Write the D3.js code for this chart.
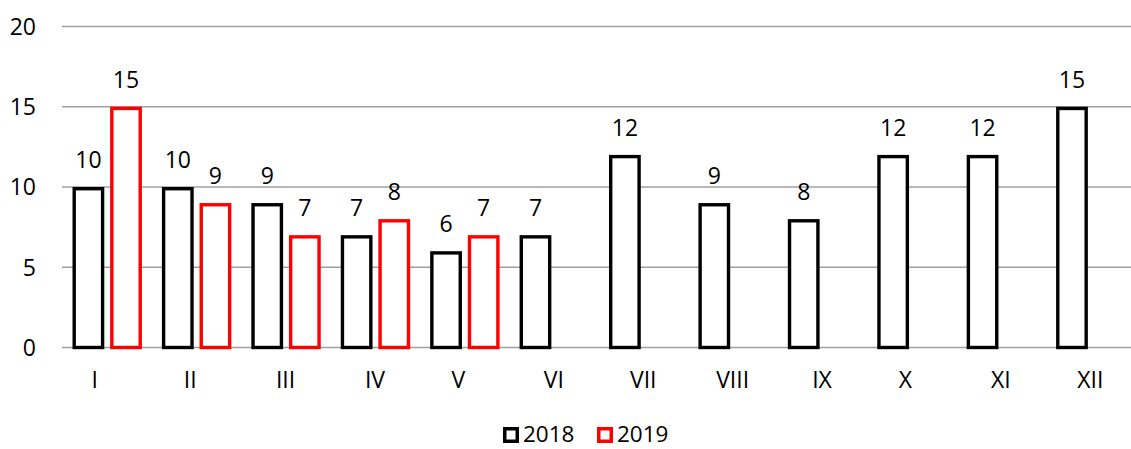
<!DOCTYPE html>
<html>
<head>
<meta charset="utf-8">
<script src="https://cdn.jsdelivr.net/npm/d3@7"></script>
<style>
  html, body { margin: 0; padding: 0; background: #fff; overflow: hidden; }
  svg text { font-family: "Open Sans", sans-serif; font-size: 23px; fill: #000; white-space: pre; }
</style>
</head>
<body>
<svg id="chart" width="1131" height="449"></svg>
<script>
// Data
const categories = ["I    ", "II  ", "III", "IV", "V  ", "VI", "VII", "VIII", "IX", "X  ", "XI", "XII"];
const seriesNames = ["2018", "2019"];
const values2018 = [10, 10, 9, 7, 6, 7, 12, 9, 8, 12, 12, 15];
const values2019 = [15, 9, 7, 8, 7, null, null, null, null, null, null, null];
const yTicks = [0, 5, 10, 15, 20];
const seriesColors = ["#000000", "#ff0000"];

const svg = d3.select("#chart");
const plot = { left: 62, right: 1135, top: 26.5, bottom: 347.5 };

const x0 = d3.scaleBand().domain(categories).range([plot.left, plot.right]).padding(0);
const x1 = d3.scaleBand().domain(seriesNames)
  .range([10.5, x0.bandwidth() - 9.5]).paddingInner(0.155).paddingOuter(0);
const y = d3.scaleLinear().domain([0, 20]).range([plot.bottom, plot.top]);

// Gridlines
svg.append("g").selectAll("line").data(yTicks).join("line")
  .attr("x1", plot.left).attr("x2", plot.right)
  .attr("y1", d => y(d)).attr("y2", d => y(d))
  .attr("stroke", "#a0a0a0").attr("stroke-width", 1.6);

// Y tick labels
svg.append("g").selectAll("text").data(yTicks).join("text")
  .attr("x", 36).attr("y", d => y(d)).attr("dy", "0.36em")
  .attr("text-anchor", "end").text(d => d);

// Bars
const rows = categories.map((c, i) => ({ cat: c, vals: [values2018[i], values2019[i]] }));
const sw = 3.4;
const groups = svg.append("g").selectAll("g").data(rows).join("g")
  .attr("transform", d => `translate(${x0(d.cat)},0)`);

const barData = d => d.vals.map((v, j) => ({ s: seriesNames[j], v, j })).filter(e => e.v != null);

groups.selectAll("rect").data(barData).join("rect")
  .attr("x", e => x1(e.s) + sw / 2)
  .attr("width", x1.bandwidth() - sw)
  .attr("y", e => y(e.v) + sw / 2)
  .attr("height", e => y(0) - y(e.v) - sw / 2)
  .attr("fill", "#fff")
  .attr("stroke", e => seriesColors[e.j])
  .attr("stroke-width", sw);

// Data labels
groups.selectAll("text").data(barData).join("text")
  .attr("x", e => x1(e.s) + x1.bandwidth() / 2)
  .attr("y", e => y(e.v) - 19)
  .attr("text-anchor", "middle")
  .text(e => e.v);

// Category labels
svg.append("g").selectAll("text").data(categories).join("text")
  .attr("x", d => x0(d) + x0.bandwidth() / 2)
  .attr("y", 388)
  .attr("text-anchor", "middle")
  .text(d => d);

// Legend
const legend = svg.append("g");
const legendX = [503, 597];
seriesNames.forEach((s, i) => {
  legend.append("rect")
    .attr("x", legendX[i] + 1.75).attr("y", 427 + 1.75)
    .attr("width", 16 - 3.5).attr("height", 16 - 3.5)
    .attr("fill", "#fff").attr("stroke", seriesColors[i]).attr("stroke-width", 3.5);
  legend.append("text")
    .attr("x", legendX[i] + 20).attr("y", 442)
    .style("font-size", "22.5px")
    .text(s);
});
</script>
</body>
</html>
